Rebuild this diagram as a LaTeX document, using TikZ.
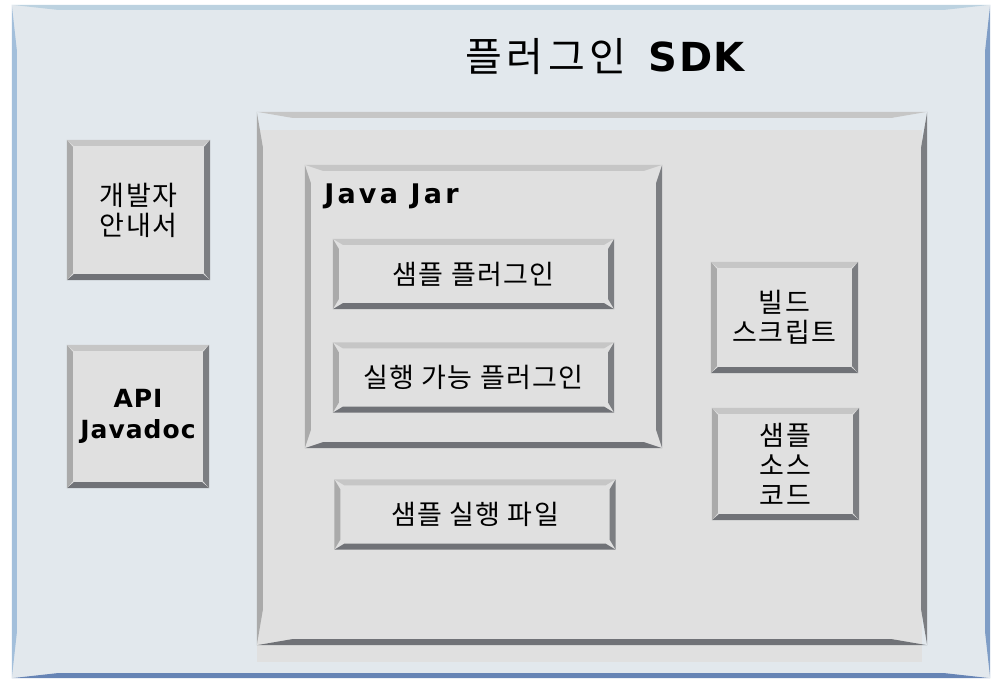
\documentclass[tikz,border=0pt]{standalone}
\usepackage{fontspec}
\setmainfont{Noto Sans CJK KR}[LetterSpace=5]
\newfontfamily\latinfont{DejaVu Sans}[LetterSpace=4]
\usetikzlibrary{positioning}
\definecolor{framefill}{RGB}{226,232,237}
\definecolor{frametop}{RGB}{188,210,224}
\definecolor{frameleft}{RGB}{163,191,219}
\definecolor{frameright}{RGB}{127,157,198}
\definecolor{framebottom}{RGB}{102,132,181}
\definecolor{boxfill}{RGB}{224,224,224}
\definecolor{bvtop}{RGB}{198,198,198}
\definecolor{bvleft}{RGB}{170,170,170}
\definecolor{bvright}{RGB}{124,126,130}
\definecolor{bvbottom}{RGB}{112,114,119}
% bevel round a node: [colour set]{node}{thickness}{slant}
\newcommand{\bevel}[4][bv]{%
\fill[#1top] (#2.north west) -- (#2.north east) -- ([xshift=-#4pt,yshift=-#3pt]#2.north east) -- ([xshift=#4pt,yshift=-#3pt]#2.north west) -- cycle;
\fill[#1right] (#2.north east) -- (#2.south east) -- ([xshift=-#3pt,yshift=#4pt]#2.south east) -- ([xshift=-#3pt,yshift=-#4pt]#2.north east) -- cycle;
\fill[#1bottom] (#2.south east) -- (#2.south west) -- ([xshift=#4pt,yshift=#3pt]#2.south west) -- ([xshift=-#4pt,yshift=#3pt]#2.south east) -- cycle;
\fill[#1left] (#2.south west) -- (#2.north west) -- ([xshift=#3pt,yshift=-#4pt]#2.north west) -- ([xshift=#3pt,yshift=#4pt]#2.south west) -- cycle;
}

\begin{document}
\begin{tikzpicture}[x=1pt,y=-1pt]
\tikzstyle{greybox}=[fill=boxfill,inner sep=0pt,align=center,font=\fontsize{27}{30}\selectfont]
\tikzstyle{wide}=[greybox,minimum width=281pt,minimum height=70pt]
\useasboundingbox [fill=white] (0,0) rectangle (991,680);

\node [fill=framefill,inner sep=0pt,minimum width=978pt,minimum height=673pt] at (501,341.5) (sdk) {};
\bevel[frame]{sdk}{5}{45}
\node [font=\fontsize{40}{44}\selectfont] at (605,57) (title) {{\addfontfeatures{LetterSpace=12}플러그인}\hspace{22pt}{\latinfont\bfseries SDK}};

\fill [boxfill] (257,130) rectangle (922,662);
\node [inner sep=0pt,minimum width=670pt,minimum height=533pt] at (592,378.5) (kit) {};
\bevel{kit}{6}{35}

\node [greybox,minimum width=143pt,minimum height=140pt] at (138.5,210) (guide) {개발자\\안내서};
\bevel{guide}{6}{7}
\node [greybox,minimum width=142pt,minimum height=143pt,font=\latinfont\bfseries\fontsize{25}{31}\selectfont] at (138,416.5) (api) {API\\Javadoc};
\bevel{api}{6}{7}

\node [greybox,minimum width=357pt,minimum height=283pt] at (483.5,306.5) (jar) {};
\bevel{jar}{6}{18}
\node [font=\latinfont\bfseries\fontsize{27}{30}\selectfont\addfontfeatures{LetterSpace=12}] at (391.5,196) (jarname) {Java Jar};

\node [wide] at (473.5,274) (plugin) {샘플 플러그인};
\bevel{plugin}{6}{10}
\node [wide] at (473.5,377.5) (runnable) {실행 가능 플러그인};
\bevel{runnable}{6}{10}
\node [wide] at (475,514.5) (runfile) {샘플 실행 파일};
\bevel{runfile}{6}{10}

\node [greybox,minimum width=147pt,minimum height=111pt] at (784.5,317.5) (build) {빌드\\스크립트};
\bevel{build}{6}{7}
\node [greybox,minimum width=147pt,minimum height=112pt] at (785.5,464) (source) {샘플\\소스\\코드};
\bevel{source}{6}{7}
\end{tikzpicture}
\end{document}
